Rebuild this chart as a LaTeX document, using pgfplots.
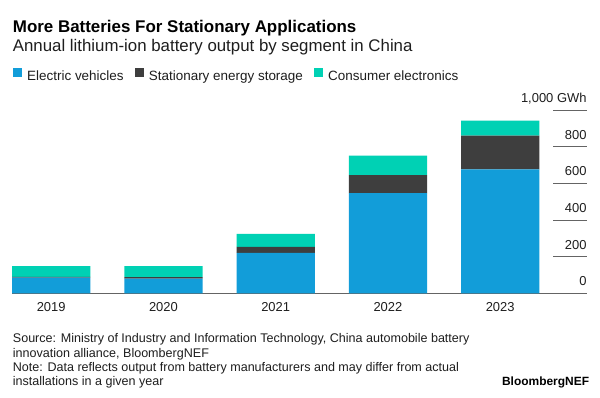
\documentclass[border=0pt]{standalone}
\usepackage{fontspec}
\setmainfont{Liberation Sans}
\usepackage{pgfplots}
\usepackage{pgfplotstable}
\pgfplotsset{compat=1.18}
\definecolor{ev}{RGB}{18,157,217}
\definecolor{ses}{RGB}{62,62,62}
\definecolor{ce}{RGB}{0,209,180}
\definecolor{gridc}{RGB}{100,100,100}
\definecolor{txt}{RGB}{30,30,30}

\pgfplotstableread{
x ev ses ce
0 85 5 59
1 80 8 61
2 220 33 71
3 547 98 106
4 676 184 82
}\datatable

\begin{document}
\begin{tikzpicture}[x=1bp,y=1bp]
\path[use as bounding box, fill=white] (0,-397) rectangle (600,0);
\node[anchor=base west, inner sep=0, text=black, font=\fontsize{17}{20}\selectfont\bfseries] at (12.7,-32.7) {More Batteries For Stationary Applications};
\node[anchor=base west, inner sep=0, text=txt, font=\fontsize{16.9}{20}\selectfont] at (12.7,-51.7) {Annual lithium-ion battery output by segment in China};

\begin{axis}[
  at={(12bp,-293.3bp)}, anchor=south west,
  scale only axis, width=574.7bp, height=183.3bp,
  xmin=-0.349, xmax=4.771, ymin=0, ymax=1000,
  clip=false,
  ybar stacked, bar width=78.3bp,
  axis x line=bottom, axis y line=right,
  x axis line style={-, gridc, line width=0.8bp},
  y axis line style={draw=none},
  major tick length=0,
  xtick={0,1,2,3,4}, xticklabels={2019,2020,2021,2022,2023},
  ytick={0,200,400,600,800,1000},
  yticklabels={0,200,400,600,800,{1,000 GWh}},
  /pgf/number format/assume math mode=true,
  xticklabel style={anchor=base, inner sep=0, yshift=-18.4bp, text=txt, font=\fontsize{13}{15}\selectfont},
  yticklabel style={anchor=base east, inner sep=0, xshift=0bp, yshift=7.5bp, text=txt, font=\fontsize{13}{15}\selectfont},
  legend style={at={(axis description cs:0.0012,1.191)}, anchor=west, draw=none, fill=none, inner sep=0,
    legend columns=-1, font=\fontsize{13.5}{15}\selectfont, text=txt,
    nodes={inner sep=0},
    /tikz/every odd column/.append style={column sep=5bp},
    /tikz/every even column/.append style={column sep=11bp}},
  legend image code/.code={\fill[#1] (0bp,-0.1bp) rectangle (9.3bp,9.2bp);},
]
\addplot[fill=ev, draw=none] table[x=x, y=ev] {\datatable};
\addplot[fill=ses, draw=none] table[x=x, y=ses] {\datatable};
\addplot[fill=ce, draw=none] table[x=x, y=ce] {\datatable};
\legend{Electric vehicles, Stationary energy storage, Consumer electronics}
\pgfplotsinvokeforeach{200,400,600,800,1000}{
  \draw[gridc, line width=0.8bp] (axis cs:4.473,#1) -- (axis cs:4.771,#1);
}
\end{axis}

\node[anchor=base west, inner sep=0, text=txt, font=\fontsize{12.6}{14}\selectfont] at (12.7,-342.7) {Source: Ministry of Industry and Information Technology, China automobile battery};
\node[anchor=base west, inner sep=0, text=txt, font=\fontsize{12.6}{14}\selectfont] at (12.7,-357.0) {innovation alliance, BloombergNEF};
\node[anchor=base west, inner sep=0, text=txt, font=\fontsize{12.6}{14}\selectfont] at (12.7,-371.3) {Note: Data reflects output from battery manufacturers and may differ from actual};
\node[anchor=base west, inner sep=0, text=txt, font=\fontsize{12.6}{14}\selectfont] at (12.7,-385.7) {installations in a given year};
\node[anchor=base east, inner sep=0, text=black, font=\fontsize{12}{14}\selectfont\bfseries] at (589.3,-385.7) {BloombergNEF};
\end{tikzpicture}
\end{document}
